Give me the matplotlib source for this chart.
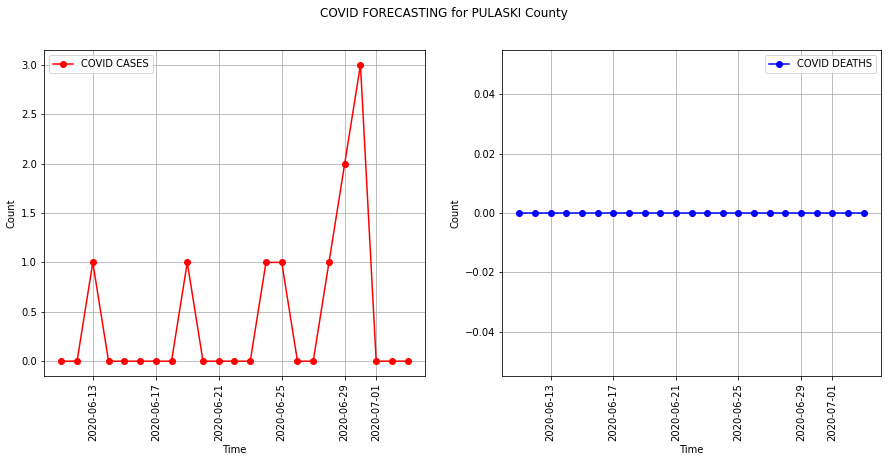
import matplotlib
matplotlib.use("Agg")
import matplotlib.pyplot as plt
import pandas as pd

dates = pd.date_range("2020-06-11", "2020-07-03", freq="D")
cases = [0, 0, 1, 0, 0, 0, 0, 0, 1, 0, 0, 0, 0, 1, 1, 0, 0, 1, 2, 3, 0, 0, 0]
deaths = [0] * 23

fig = plt.figure(figsize=(888/72, 462/72), dpi=72)
ax1 = fig.add_axes([44/888, 86/462, 381/888, 326/462])
ax2 = fig.add_axes([502/888, 86/462, 379/888, 326/462])

ax1.plot(dates, cases, "o-", color="red", label="COVID CASES")
ax2.plot(dates, deaths, "o-", color="blue", label="COVID DEATHS")

for ax in (ax1, ax2):
    ax.grid(True)
    ax.set_xlabel("Time")
    ax.set_ylabel("Count")
    ax.tick_params(axis="x", labelrotation=90)
ax1.legend(loc="upper left")
ax2.legend(loc="upper right")

fig.suptitle("COVID FORECASTING for PULASKI County", y=0.985)
fig.savefig("out.png", dpi=72)
